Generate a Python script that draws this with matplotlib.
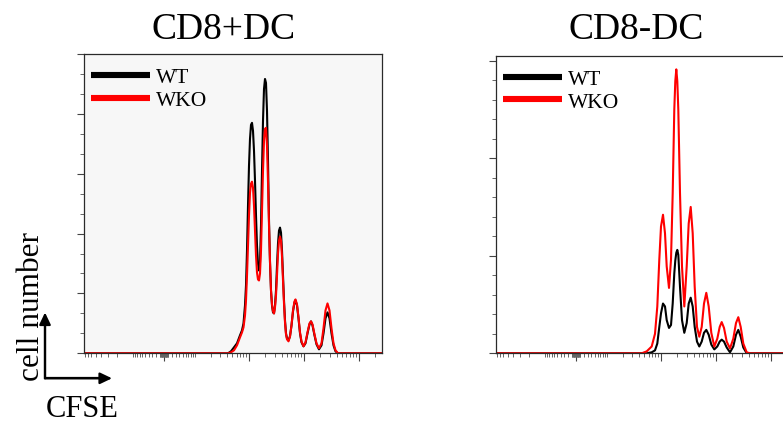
import numpy as np
import matplotlib
matplotlib.use("Agg")
import matplotlib.pyplot as plt
from matplotlib.lines import Line2D
from matplotlib.ticker import MultipleLocator, NullFormatter

plt.rcParams["font.family"] = ["Liberation Serif", "DejaVu Serif"]

# ---- CFSE histograms (display channel 0-298, cell counts) ----
cd8p_channel = [0, 144, 147, 150, 153, 156, 158, 159.5, 161,
                162, 163, 164, 165, 166, 167, 168, 169, 170, 171, 172, 173, 174, 175,
                176, 177, 178, 179, 180, 181, 182, 183, 184, 185, 186, 187, 188, 189,
                190, 191, 192, 193, 194, 195, 196, 197, 198, 199, 200, 201, 202, 203,
                204.5, 206, 207.5, 209, 210.5, 211.5, 213, 214.5, 216, 217.5, 219.5,
                221.5, 223.5, 225.5, 227, 228.5, 230.5, 232.5, 235, 237.5, 239.5,
                241.5, 243.5, 245.5, 247.5, 249.5, 251.5, 254, 298]
cd8p_wt = [0, 0, 2, 6, 10, 18, 23, 30, 48,
           68, 103, 148, 188, 215, 229, 231, 223, 203, 173, 138, 108, 90, 83,
           91, 128, 183, 233, 265, 275, 271, 243, 193, 133, 91, 63, 48, 41,
           40, 48, 63, 88, 110, 123, 126, 121, 103, 78, 53, 33, 20, 15,
           13, 17, 28, 42, 51, 53, 48, 35, 20, 11, 7,
           10, 20, 29, 32, 28, 18, 9, 4, 8, 20,
           35, 41, 35, 20, 8, 2, 0, 0]
cd8p_wko = [0, 0, 1, 3, 8, 16, 21, 26, 38,
            53, 78, 108, 138, 161, 170, 172, 166, 148, 123, 98, 81, 74, 73,
            80, 103, 143, 183, 213, 225, 226, 208, 172, 128, 92, 63, 49, 42,
            40, 46, 58, 78, 100, 113, 117, 113, 97, 73, 50, 31, 19, 14,
            12, 17, 28, 43, 52, 54, 49, 36, 21, 12, 7,
            11, 21, 30, 32, 29, 19, 10, 5, 10, 25,
            43, 50, 43, 25, 10, 3, 0, 0]

cd8n_channel = [0, 145.7, 150.7, 155.7, 159, 161.3, 163.3, 165, 167, 169, 170.7,
                173, 175, 176.7, 178.3, 179.3, 180.3, 181.3, 182.3, 184, 186, 188.3,
                190.7, 192.7, 194.7, 196.7, 198.7, 201, 203.3, 205.7, 208, 210.3,
                212.7, 215.3, 218.3, 221.3, 223.7, 225.7, 228, 230.7, 234, 237.3,
                240, 242.3, 244.7, 247.3, 250.7, 254, 298]
cd8n_wt = [0, 0, 0, 1, 3, 10, 27, 41, 51, 48, 34,
           26, 29, 51, 82, 95, 103, 106, 101, 68, 34, 21,
           31, 51, 57, 48, 27, 12, 7, 12, 21, 24,
           19, 9, 4, 7, 12, 14, 12, 6, 1, 7,
           19, 24, 17, 6, 0, 0, 0]
cd8n_wko = [0, 0, 2, 7, 20, 48, 96, 130, 142, 123, 89,
            67, 96, 164, 250, 279, 291, 279, 250, 164, 89, 48,
            89, 133, 150, 123, 68, 27, 17, 27, 51, 62,
            48, 21, 7, 15, 27, 32, 26, 12, 5, 15,
            31, 37, 27, 10, 1, 0, 0]

panel_titles = ["CD8+DC", "CD8-DC"]
series_names = ["WT", "WKO"]
series_colors = ["#000000", "#ff0000"]

# biexponential-style display of the CFSE axis
ZERO_CH = 80.0
DECADE_GAIN = 23.89
LINEAR_WIDTH = 57.8


def display_channel(v):
    return ZERO_CH + DECADE_GAIN * np.arcsinh(np.asarray(v, dtype=float) / LINEAR_WIDTH)


major_vals = [0, 1e3, 1e4, 1e5]
minor_vals = []
for d in range(0, 6):
    for k in range(1, 10):
        v = k * 10 ** d
        if v not in major_vals:
            minor_vals.extend([v, -v])
major_ch = [c for c in display_channel(major_vals) if 0 <= c <= 298]
minor_ch = [c for c in display_channel(minor_vals) if 0 <= c <= 298]

W, H = 783, 423
fig = plt.figure(figsize=(W / 100, H / 100), dpi=100)
fig.patch.set_facecolor("white")

panels = [
    dict(rect=[84, 69.7, 298, 299.3], bg="#f7f7f7", ymax=300, ymaj=60, ymin_step=20,
         x=cd8p_channel, ys=[cd8p_wt, cd8p_wko], title_x=223.5),
    dict(rect=[496, 69.7, 298, 297.6], bg="#ffffff", ymax=305, ymaj=100, ymin_step=20,
         x=cd8n_channel, ys=[cd8n_wt, cd8n_wko], title_x=636),
]

for p, title in zip(panels, panel_titles):
    l, b, w, h = p["rect"]
    ax = fig.add_axes([l / W, b / H, w / W, h / H])
    ax.set_facecolor(p["bg"])
    for y, col in zip(p["ys"], series_colors):
        ax.plot(p["x"], y, color=col, lw=1.5, solid_joinstyle="round")
    ax.set_xlim(0, 298)
    ax.set_ylim(0, p["ymax"])

    ax.set_xticks(major_ch)
    ax.set_xticks(minor_ch, minor=True)
    ax.yaxis.set_major_locator(MultipleLocator(p["ymaj"]))
    ax.yaxis.set_minor_locator(MultipleLocator(p["ymin_step"]))
    ax.xaxis.set_major_formatter(NullFormatter())
    ax.yaxis.set_major_formatter(NullFormatter())
    ax.tick_params(axis="x", which="major", direction="out", length=5.5, width=0.8, color="#444444")
    ax.tick_params(axis="x", which="minor", direction="out", length=3.2, width=0.7, color="#666666")
    ax.tick_params(axis="y", which="major", direction="out", length=5, width=0.8, color="#444444")
    ax.tick_params(axis="y", which="minor", direction="out", length=3, width=0.7, color="#666666")
    for s in ax.spines.values():
        s.set_color("#2a2a2a")
        s.set_linewidth(0.9)

    # legend
    rows = [(0.930, 0.903), (0.853, 0.825)]
    for (ly, ty), name, col in zip(rows, series_names, series_colors):
        ax.add_line(Line2D([0.024, 0.220], [ly, ly], transform=ax.transAxes,
                           color=col, lw=4.4, solid_capstyle="butt"))
        ax.text(0.241, ty, name, transform=ax.transAxes, fontsize=15.5,
                ha="left", va="baseline", color="black")

    fig.text(p["title_x"] / W, (H - 39) / H, title, fontsize=27,
             ha="center", va="baseline")

# axis-direction key
fig.text(31.5 / W, (H - 306.5) / H, "cell number", fontsize=22.5, rotation=90,
         ha="center", va="center")
fig.text(81.7 / W, (H - 416.5) / H, "CFSE", fontsize=22, ha="center", va="baseline")

corner = (45, H - 378.3)
fig.add_artist(Line2D([corner[0], corner[0], 104], [H - 320, corner[1], corner[1]],
                      transform=None, color="black", lw=1.6,
                      solid_joinstyle="miter", solid_capstyle="butt"))
for tip in [(45, H - 312.5), (112, H - 378.3)]:
    fig.add_artist(matplotlib.patches.FancyArrowPatch(
        corner, tip, transform=None,
        arrowstyle="-|>,head_length=0.42,head_width=0.2",
        mutation_scale=17, color="black", lw=1.6, shrinkA=0, shrinkB=0))

fig.savefig("out.png", dpi=100)
